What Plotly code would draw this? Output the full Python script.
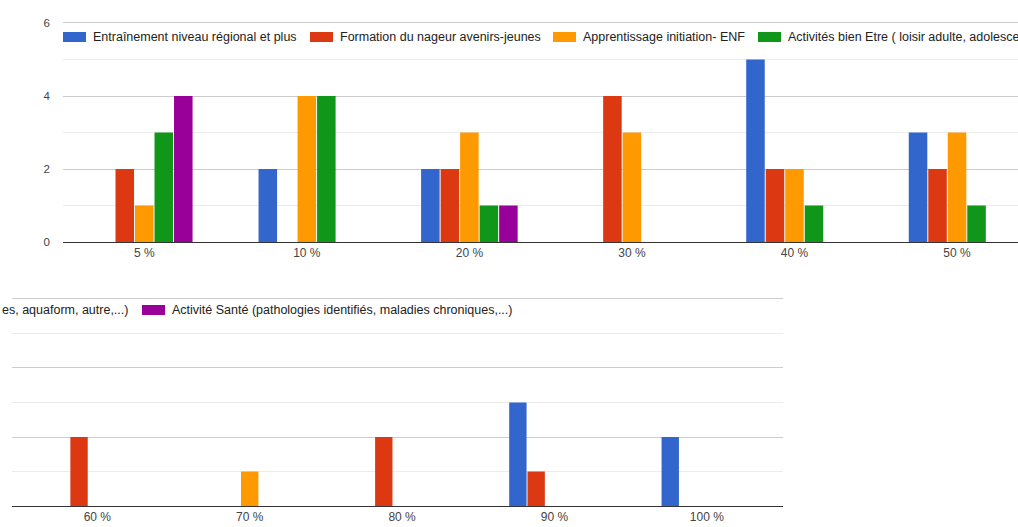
import plotly.graph_objects as go

W, H = 1018, 527

categories = ["5 %", "10 %", "20 %", "30 %", "40 %", "50 %", "60 %", "70 %", "80 %", "90 %", "100 %"]
entrainement = [0, 2, 2, 0, 5, 3, 0, 0, 0, 3, 2]
formation = [2, 0, 2, 4, 2, 2, 2, 0, 2, 1, 0]
apprentissage = [1, 4, 3, 3, 2, 3, 0, 1, 0, 0, 0]
bien_etre = [3, 4, 1, 0, 1, 1, 0, 0, 0, 0, 0]
sante = [4, 0, 1, 0, 0, 0, 0, 0, 0, 0, 0]

series_names = [
    "Entraînement niveau régional et plus",
    "Formation du nageur avenirs-jeunes",
    "Apprentissage initiation- ENF",
    "Activités bien Etre ( loisir adulte, adolescentes, aquaform, autre,...)",
    "Activité Santé (pathologies identifiés, maladies chroniques,...)",
]
series_values = [entrainement, formation, apprentissage, bien_etre, sante]
colors = ["#3366cc", "#dc3912", "#ff9900", "#109618", "#990099"]

split = 6  # first row shows the first 6 categories, second row the rest

def px_x(x):
    return x / W

def px_y(y):
    return 1 - y / H

fig = go.Figure()
for name, vals, col in zip(series_names, series_values, colors):
    fig.add_trace(go.Bar(x=categories[:split], y=vals[:split], name=name,
                         marker=dict(color=col, line=dict(width=0)),
                         xaxis="x", yaxis="y", showlegend=False, hoverinfo="skip"))
    fig.add_trace(go.Bar(x=categories[split:], y=vals[split:], name=name,
                         marker=dict(color=col, line=dict(width=0)),
                         xaxis="x2", yaxis="y2", showlegend=False, hoverinfo="skip"))

font_main = "Liberation Sans, Arial, sans-serif"
xtick_font = dict(family=font_main, size=12, color="#444444")
ytick_font = dict(family=font_main, size=11.5, color="#444444")

YMAX = 6
EXTRA = 0.05  # small headroom so the top gridline is drawn

common_y = dict(range=[0, YMAX + EXTRA], tickvals=[0, 2, 4, 6], gridcolor="#cccccc", gridwidth=1,
                minor=dict(dtick=1, showgrid=True, gridcolor="#ececec", gridwidth=1),
                zeroline=False, showline=False, fixedrange=True, tickfont=ytick_font,
                automargin=False)

def y_domain(y0_px, ytop_px):
    unit = (y0_px - ytop_px) / YMAX
    return [px_y(y0_px), px_y(ytop_px - EXTRA * unit)]

fig.update_layout(
    width=W, height=H,
    margin=dict(l=0, r=0, t=0, b=0, pad=0),
    paper_bgcolor="white", plot_bgcolor="white",
    barmode="group", bargap=0.4, bargroupgap=0.05,
    font=dict(family=font_main, size=11, color="#222222"),
    xaxis=dict(domain=[px_x(63), 1], anchor="y", type="category",
               range=[-0.5, 5.375], showgrid=False, showline=True,
               linecolor="#333333", linewidth=1, ticks="", tickfont=xtick_font,
               categoryorder="array", categoryarray=categories[:split],
               automargin=False, fixedrange=True),
    yaxis=dict(domain=y_domain(242, 23), anchor="x", ticklabelstandoff=12, **common_y),
    xaxis2=dict(domain=[px_x(12), px_x(783)], anchor="y2", type="category",
                range=[-0.56, 4.5], showgrid=False, showline=True,
                linecolor="#333333", linewidth=1, ticks="", tickfont=xtick_font,
                categoryorder="array", categoryarray=categories[split:],
                automargin=False, fixedrange=True),
    yaxis2=dict(domain=y_domain(506, 299), anchor="x2", showticklabels=False, **common_y),
)

# Legend (drawn manually: swatch + label), row 1 and its wrapped continuation in row 2
legend_font = dict(family=font_main, size=12.5, color="#222222")
row1 = [(63, 0), (310, 1), (553, 2), (758, 3)]
for x0, i in row1:
    fig.add_shape(type="rect", xref="paper", yref="paper",
                  x0=px_x(x0), x1=px_x(x0 + 23), y0=px_y(42), y1=px_y(32),
                  fillcolor=colors[i], line=dict(width=0))
    label = series_names[i]
    if i == 3:
        label = "Activités bien Etre ( loisir adulte, adolesce"
    fig.add_annotation(xref="paper", yref="paper", x=px_x(x0 + 28), y=px_y(37),
                       text=label, showarrow=False, xanchor="left", yanchor="middle",
                       font=legend_font)

fig.add_annotation(xref="paper", yref="paper", x=px_x(0), y=px_y(310),
                   text="es, aquaform, autre,...)", showarrow=False,
                   xanchor="left", yanchor="middle", font=legend_font)
fig.add_shape(type="rect", xref="paper", yref="paper",
              x0=px_x(142), x1=px_x(165), y0=px_y(315), y1=px_y(305),
              fillcolor=colors[4], line=dict(width=0))
fig.add_annotation(xref="paper", yref="paper", x=px_x(170), y=px_y(310),
                   text=series_names[4], showarrow=False,
                   xanchor="left", yanchor="middle", font=legend_font)

fig.write_html("out.html", config={"displayModeBar": False},
               post_script="document.body.style.margin='0';")
